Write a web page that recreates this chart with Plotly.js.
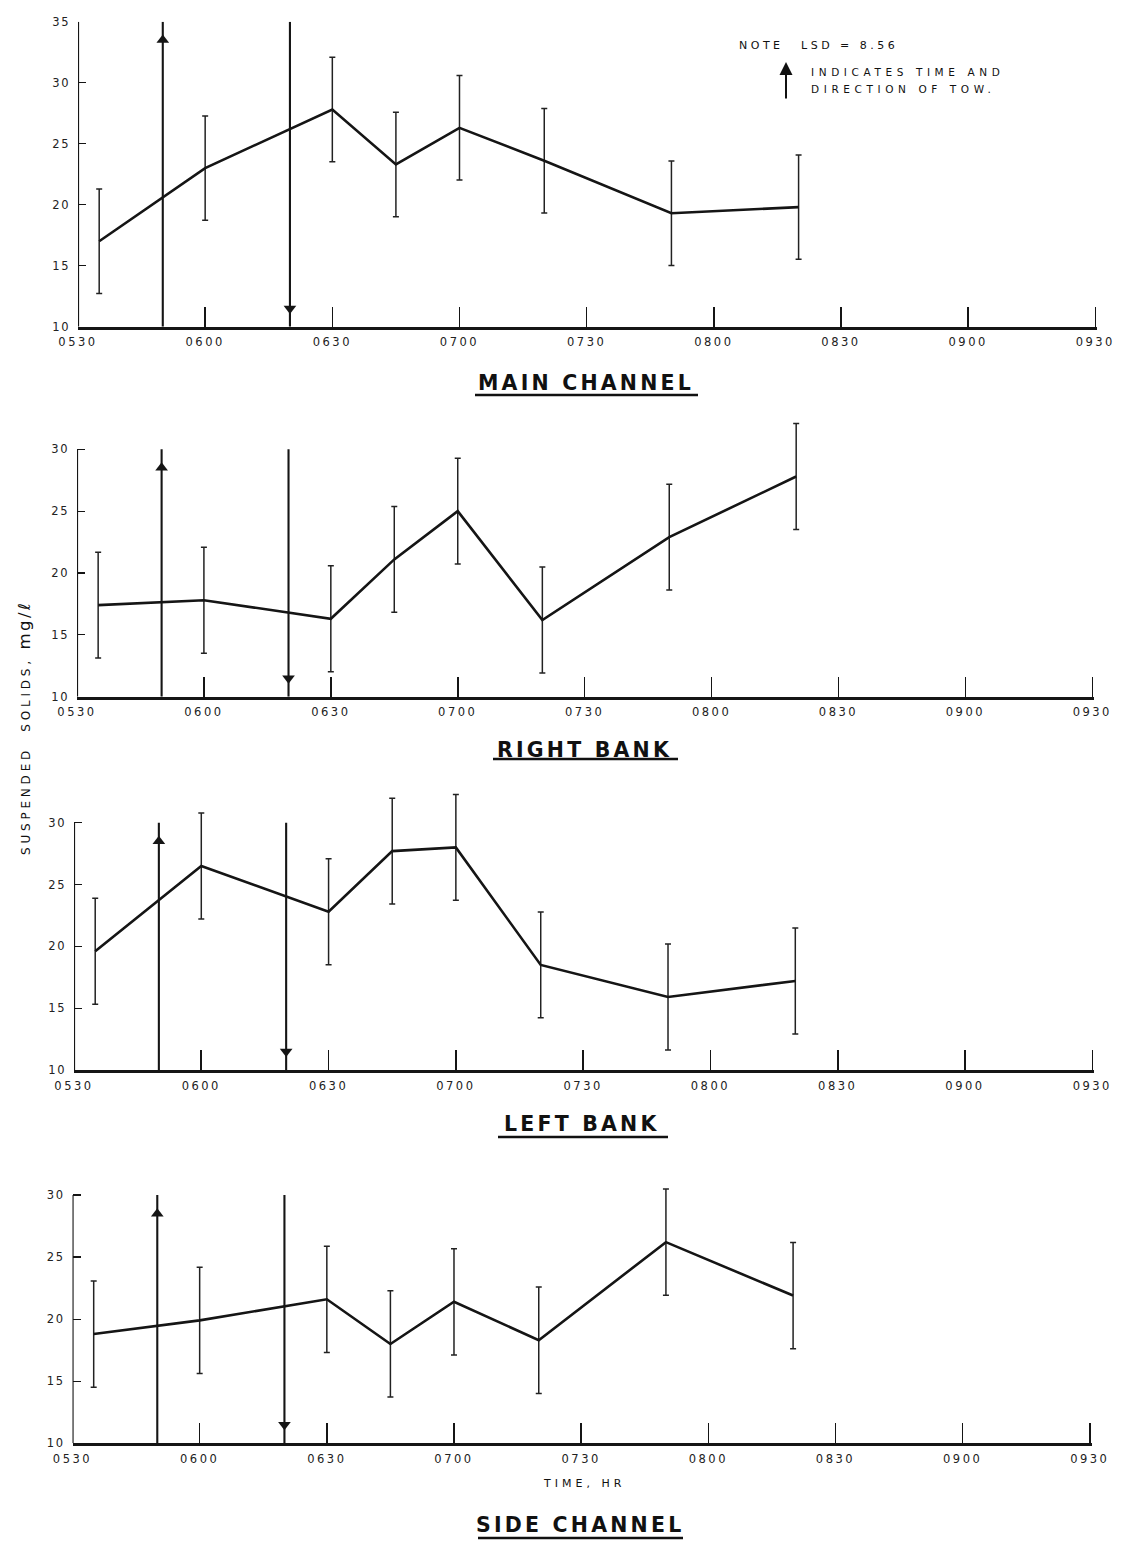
<!DOCTYPE html>
<html>
<head>
<meta charset="utf-8">
<script src="https://cdn.plot.ly/plotly-3.0.1.min.js"></script>
<style>
html,body{margin:0;padding:0;background:#fff;}
#chart{width:1122px;height:1541px;}
</style>
</head>
<body>
<div id="chart"></div>
<script>
// ---------- DATA ----------
// sample times in minutes after midnight (0535, 0600, 0630, 0645, 0700, 0720, 0750, 0820)
const sampleTimes = [335, 360, 390, 405, 420, 440, 470, 500];
const mainChannel = [17.0, 23.0, 27.8, 23.3, 26.3, 23.6, 19.3, 19.8];
const rightBank   = [17.4, 17.8, 16.3, 21.1, 25.0, 16.2, 22.9, 27.8];
const leftBank    = [19.6, 26.5, 22.8, 27.7, 28.0, 18.5, 15.9, 17.2];
const sideChannel = [18.8, 19.9, 21.6, 18.0, 21.4, 18.3, 26.2, 21.9];
// error bars: +/- LSD/2 (LSD = 8.56)
const errorHalf   = [4.28, 4.28, 4.28, 4.28, 4.28, 4.28, 4.28, 4.28];
// tows: time (minutes after midnight) and direction
const towTimes      = [350, 380];
const towDirections = ['up', 'down'];
// x ticks
const xTickValues = [330, 360, 390, 420, 450, 480, 510, 540, 570];
const xTickLabels = ['0530', '0600', '0630', '0700', '0730', '0800', '0830', '0900', '0930'];
const panelTitles = ['MAIN CHANNEL', 'RIGHT BANK', 'LEFT BANK', 'SIDE CHANNEL'];
const panelYMax   = [35, 30, 30, 30];

// ---------- LAYOUT GEOMETRY (pixels) ----------
const W = 1122, H = 1541;
const fx = p => p / W;
const fy = p => 1 - p / H;
const geom = [
  {px: [78, 1097], py: [21.7, 326.7],  title: [586, 383],  uline: [475, 698, 395], headroom: 0},
  {px: [77, 1094], py: [449.3, 696.7], title: [584, 750],  uline: [493, 678, 759], headroom: 3},
  {px: [74, 1094], py: [822.7, 1070],  title: [582, 1124], uline: [498, 668, 1137], headroom: 3},
  {px: [72.5, 1091.5], py: [1195, 1443.3], title: [580, 1525], uline: [478, 683, 1538], headroom: 3}
];
const series = [mainChannel, rightBank, leftBank, sideChannel];
const INK = '#151515';
const xTickFont = {family: 'DejaVu Sans', size: 11.5, color: '#222'};
const yTickFont = {family: 'DejaVu Sans', size: 11.5, color: '#222'};

const traces = [];
const layout = {
  width: W, height: H,
  margin: {l: 0, r: 0, t: 0, b: 0},
  paper_bgcolor: '#fff', plot_bgcolor: 'rgba(0,0,0,0)',
  showlegend: false,
  annotations: [],
  shapes: []
};
const spaced = (t, s) => `<span style="letter-spacing:${s}px">${t}</span>`;

series.forEach((vals, i) => {
  const n = i === 0 ? '' : String(i + 1);
  const g = geom[i];
  const yMax = panelYMax[i];
  const pxPerUnit = (g.py[1] - g.py[0]) / (yMax - 10);
  const topPx = g.py[0] - g.headroom * pxPerUnit;
  const yTicks = [];
  for (let v = 10; v <= yMax; v += 5) yTicks.push(v);

  layout['xaxis' + n] = {
    domain: [fx(g.px[0]), fx(g.px[1])],
    anchor: 'y' + n,
    range: [330, 570.4],
    tickmode: 'array', tickvals: xTickValues,
    ticktext: xTickLabels.map(t => spaced(t, 2.5)),
    ticks: 'inside', ticklen: 20, tickwidth: 1.6, tickcolor: INK,
    showline: true, linewidth: 2.8, linecolor: INK,
    showgrid: false, zeroline: false,
    tickfont: xTickFont, ticklabelstandoff: 3,
    fixedrange: true
  };
  layout['yaxis' + n] = {
    domain: [fy(g.py[1]), fy(topPx)],
    anchor: 'x' + n,
    range: [10, yMax + g.headroom],
    tickmode: 'array', tickvals: yTicks, ticktext: yTicks.map(v => spaced(String(v), 1.5)),
    ticks: 'inside', ticklen: 8, tickwidth: 1.2, tickcolor: INK,
    showline: false,
    showgrid: false, zeroline: false,
    tickfont: yTickFont, ticklabelstandoff: 7,
    fixedrange: true
  };
  // visible y-axis line only from 10 up to the top tick
  layout.shapes.push({
    type: 'line', xref: 'x' + n, yref: 'y' + n,
    x0: 330, x1: 330, y0: 10, y1: yMax,
    line: {color: INK, width: 2.2}
  });

  // data line with error bars
  traces.push({
    x: sampleTimes, y: vals, xaxis: 'x' + n, yaxis: 'y' + n,
    mode: 'lines', line: {color: INK, width: 2.6},
    error_y: {type: 'data', array: errorHalf, visible: true, color: '#222', thickness: 1.5, width: 3},
    hoverinfo: 'x+y'
  });

  // tow arrows
  towTimes.forEach((t, k) => {
    const up = towDirections[k] === 'up';
    traces.push({
      x: [t, t], y: [10, yMax], xaxis: 'x' + n, yaxis: 'y' + n,
      mode: 'lines', line: {color: INK, width: 2.1}, hoverinfo: 'skip', cliponaxis: false
    });
    traces.push({
      x: [t], y: [up ? yMax - 1.5 : 11.5], xaxis: 'x' + n, yaxis: 'y' + n,
      mode: 'markers',
      marker: {symbol: up ? 'triangle-up' : 'triangle-down', size: 11, color: INK},
      hoverinfo: 'skip', cliponaxis: false
    });
  });

  // panel title
  layout.annotations.push({
    xref: 'paper', yref: 'paper', x: fx(g.title[0]), y: fy(g.title[1]),
    xanchor: 'center', yanchor: 'middle', showarrow: false,
    text: '<b>' + spaced(panelTitles[i], 3.2) + '</b>',
    font: {family: 'DejaVu Sans', size: 20.5, color: '#111'}
  });
  layout.shapes.push({
    type: 'line', xref: 'paper', yref: 'paper',
    x0: fx(g.uline[0]), x1: fx(g.uline[1]), y0: fy(g.uline[2]), y1: fy(g.uline[2]),
    line: {color: '#111', width: 2.5}
  });
});

// y-axis title
layout.annotations.push({
  xref: 'paper', yref: 'paper', x: fx(24), y: fy(728),
  xanchor: 'center', yanchor: 'middle', showarrow: false, textangle: -90,
  text: spaced('SUSPENDED  SOLIDS, ', 3.8) + '<span style="font-size:16.5px;letter-spacing:2.5px">mg/ℓ</span>',
  font: {family: 'DejaVu Sans', size: 12, color: '#111'}
});
// x-axis title
layout.annotations.push({
  xref: 'paper', yref: 'paper', x: fx(584), y: fy(1483),
  xanchor: 'center', yanchor: 'middle', showarrow: false,
  text: spaced('TIME, HR', 4),
  font: {family: 'DejaVu Sans', size: 11, color: '#111'}
});
// note
layout.annotations.push({
  xref: 'paper', yref: 'paper', x: fx(737), y: fy(45),
  xanchor: 'left', yanchor: 'middle', showarrow: false,
  text: spaced('NOTE', 3.5) + '     ' + spaced('LSD = 8.56', 3.5),
  font: {family: 'DejaVu Sans', size: 11, color: '#111'}
});
layout.annotations.push({
  xref: 'paper', yref: 'paper', x: fx(809), y: fy(72),
  xanchor: 'left', yanchor: 'middle', showarrow: false,
  text: spaced('INDICATES TIME AND', 4.6),
  font: {family: 'DejaVu Sans', size: 10.5, color: '#111'}
});
layout.annotations.push({
  xref: 'paper', yref: 'paper', x: fx(809), y: fy(89),
  xanchor: 'left', yanchor: 'middle', showarrow: false,
  text: spaced('DIRECTION OF TOW.', 4.6),
  font: {family: 'DejaVu Sans', size: 10.5, color: '#111'}
});
layout.annotations.push({
  xref: 'paper', yref: 'paper', x: fx(786), y: fy(62), ax: 0, ay: 38,
  showarrow: true, arrowhead: 2, arrowsize: 1.3, arrowwidth: 2, arrowcolor: '#111', text: ''
});

Plotly.newPlot('chart', traces, layout, {displayModeBar: false, staticPlot: true});
</script>
</body>
</html>
